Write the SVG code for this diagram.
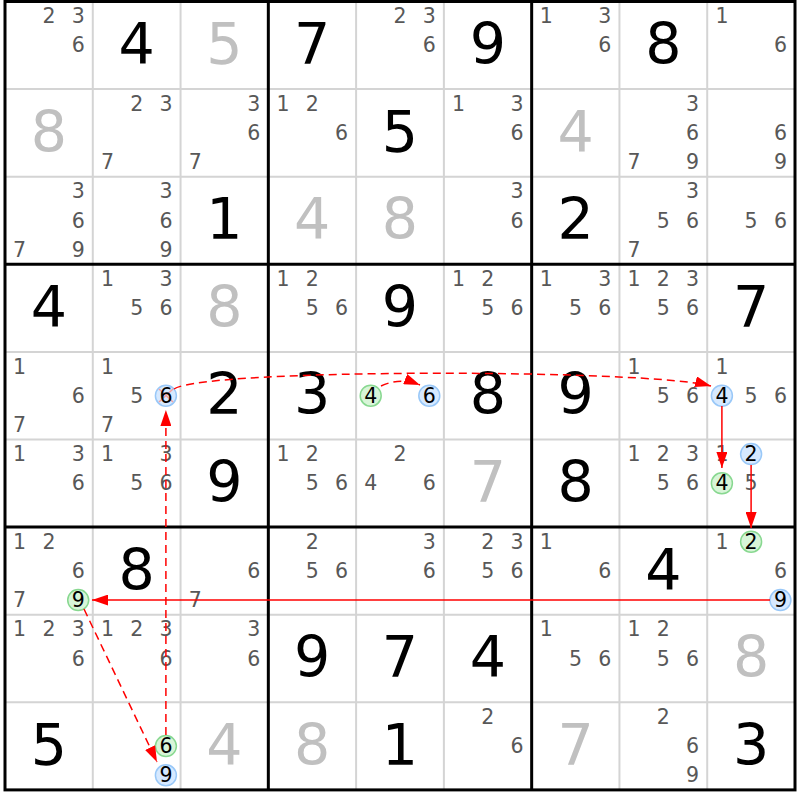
<svg xmlns="http://www.w3.org/2000/svg" width="800" height="800" viewBox="0 0 800 800">
<style>
text{font-family:"DejaVu Sans","Noto Sans",sans-serif;text-anchor:middle}
.c{font-size:20.5px;fill:#585858}
.h{font-size:20.5px;fill:#000}
.g{font-size:57px;fill:#000}
.s{font-size:57px;fill:#c0c0c0}
.thin{stroke:#d4d4d4;stroke-width:2}
.thick{stroke:#000;stroke-width:3}
.cb{fill:#d6e9ff;stroke:#99c8f8;stroke-width:1.5}
.cg{fill:#d8f5d8;stroke:#88d890;stroke-width:1.5}
.ln{fill:none;stroke:#f00;stroke-width:1.5}
.dash{stroke-dasharray:8 5}
.x{stroke:#f4a0a0;stroke-width:1.5}
</style>
<defs>
<marker id="ah" markerUnits="userSpaceOnUse" markerWidth="16" markerHeight="11" refX="16" refY="5.5" orient="auto">
<path d="M0,0 L16,5.5 L0,11 z" fill="#f00"/>
</marker>
</defs>
<rect width="800" height="800" fill="#fff"/>
<g id="grid">
<path class="thin" d="M92.78,1.5V789.9M180.56,1.5V789.9M356.11,1.5V789.9M443.89,1.5V789.9M619.44,1.5V789.9M707.22,1.5V789.9M5,89.1H795M5,176.7H795M5,351.9H795M5,439.5H795M5,614.7H795M5,702.3H795"/>
<path class="thick" d="M268.33,1.5V789.9M531.67,1.5V789.9M5,264.3H795M5,527.1H795"/>
<rect class="thick" x="5" y="1.5" width="790" height="788.4" fill="none"/>
</g>
<g id="r1c1"><text class="c" x="48.9" y="23.1">2</text><text class="c" x="78.2" y="23.1">3</text><text class="c" x="78.2" y="52.3">6</text></g>
<g id="r1c2"><text class="g" x="136.7" y="64">4</text></g>
<g id="r1c3"><text class="s" x="224.4" y="64">5</text></g>
<g id="r1c4"><text class="g" x="312.2" y="64">7</text></g>
<g id="r1c5"><text class="c" x="400" y="23.1">2</text><text class="c" x="429.3" y="23.1">3</text><text class="c" x="429.3" y="52.3">6</text></g>
<g id="r1c6"><text class="g" x="487.8" y="64">9</text></g>
<g id="r1c7"><text class="c" x="546.3" y="23.1">1</text><text class="c" x="604.8" y="23.1">3</text><text class="c" x="604.8" y="52.3">6</text></g>
<g id="r1c8"><text class="g" x="663.3" y="64">8</text></g>
<g id="r1c9"><text class="c" x="721.9" y="23.1">1</text><text class="c" x="780.4" y="52.3">6</text></g>
<g id="r2c1"><text class="s" x="48.9" y="151.6">8</text></g>
<g id="r2c2"><text class="c" x="136.7" y="110.7">2</text><text class="c" x="165.9" y="110.7">3</text><text class="c" x="107.4" y="169.1">7</text></g>
<g id="r2c3"><text class="c" x="253.7" y="110.7">3</text><text class="c" x="253.7" y="139.9">6</text><text class="c" x="195.2" y="169.1">7</text></g>
<g id="r2c4"><text class="c" x="283" y="110.7">1</text><text class="c" x="312.2" y="110.7">2</text><text class="c" x="341.5" y="139.9">6</text></g>
<g id="r2c5"><text class="g" x="400" y="151.6">5</text></g>
<g id="r2c6"><text class="c" x="458.5" y="110.7">1</text><text class="c" x="517" y="110.7">3</text><text class="c" x="517" y="139.9">6</text></g>
<g id="r2c7"><text class="s" x="575.6" y="151.6">4</text></g>
<g id="r2c8"><text class="c" x="692.6" y="110.7">3</text><text class="c" x="692.6" y="139.9">6</text><text class="c" x="634.1" y="169.1">7</text><text class="c" x="692.6" y="169.1">9</text></g>
<g id="r2c9"><text class="c" x="780.4" y="139.9">6</text><text class="c" x="780.4" y="169.1">9</text></g>
<g id="r3c1"><text class="c" x="78.2" y="198.3">3</text><text class="c" x="78.2" y="227.5">6</text><text class="c" x="19.6" y="256.7">7</text><text class="c" x="78.2" y="256.7">9</text></g>
<g id="r3c2"><text class="c" x="165.9" y="198.3">3</text><text class="c" x="165.9" y="227.5">6</text><text class="c" x="165.9" y="256.7">9</text></g>
<g id="r3c3"><text class="g" x="224.4" y="239.2">1</text></g>
<g id="r3c4"><text class="s" x="312.2" y="239.2">4</text></g>
<g id="r3c5"><text class="s" x="400" y="239.2">8</text></g>
<g id="r3c6"><text class="c" x="517" y="198.3">3</text><text class="c" x="517" y="227.5">6</text></g>
<g id="r3c7"><text class="g" x="575.6" y="239.2">2</text></g>
<g id="r3c8"><text class="c" x="692.6" y="198.3">3</text><text class="c" x="663.3" y="227.5">5</text><text class="c" x="692.6" y="227.5">6</text><text class="c" x="634.1" y="256.7">7</text></g>
<g id="r3c9"><text class="c" x="751.1" y="227.5">5</text><text class="c" x="780.4" y="227.5">6</text></g>
<g id="r4c1"><text class="g" x="48.9" y="326.8">4</text></g>
<g id="r4c2"><text class="c" x="107.4" y="285.9">1</text><text class="c" x="165.9" y="285.9">3</text><text class="c" x="136.7" y="315.1">5</text><text class="c" x="165.9" y="315.1">6</text></g>
<g id="r4c3"><text class="s" x="224.4" y="326.8">8</text></g>
<g id="r4c4"><text class="c" x="283" y="285.9">1</text><text class="c" x="312.2" y="285.9">2</text><text class="c" x="312.2" y="315.1">5</text><text class="c" x="341.5" y="315.1">6</text></g>
<g id="r4c5"><text class="g" x="400" y="326.8">9</text></g>
<g id="r4c6"><text class="c" x="458.5" y="285.9">1</text><text class="c" x="487.8" y="285.9">2</text><text class="c" x="487.8" y="315.1">5</text><text class="c" x="517" y="315.1">6</text></g>
<g id="r4c7"><text class="c" x="546.3" y="285.9">1</text><text class="c" x="604.8" y="285.9">3</text><text class="c" x="575.6" y="315.1">5</text><text class="c" x="604.8" y="315.1">6</text></g>
<g id="r4c8"><text class="c" x="634.1" y="285.9">1</text><text class="c" x="663.3" y="285.9">2</text><text class="c" x="692.6" y="285.9">3</text><text class="c" x="663.3" y="315.1">5</text><text class="c" x="692.6" y="315.1">6</text></g>
<g id="r4c9"><text class="g" x="751.1" y="326.8">7</text></g>
<g id="r5c1"><text class="c" x="19.6" y="373.5">1</text><text class="c" x="78.2" y="402.7">6</text><text class="c" x="19.6" y="431.9">7</text></g>
<g id="r5c2"><text class="c" x="107.4" y="373.5">1</text><text class="c" x="136.7" y="402.7">5</text><circle class="cb" cx="165.9" cy="395.7" r="10.5"/><path class="x" d="M159,389L173,402M173,389L159,402"/><text class="h" x="165.9" y="402.7">6</text><text class="c" x="107.4" y="431.9">7</text></g>
<g id="r5c3"><text class="g" x="224.4" y="414.4">2</text></g>
<g id="r5c4"><text class="g" x="312.2" y="414.4">3</text></g>
<g id="r5c5"><circle class="cg" cx="370.7" cy="395.7" r="10.5"/><text class="h" x="370.7" y="402.7">4</text><circle class="cb" cx="429.3" cy="395.7" r="10.5"/><text class="h" x="429.3" y="402.7">6</text></g>
<g id="r5c6"><text class="g" x="487.8" y="414.4">8</text></g>
<g id="r5c7"><text class="g" x="575.6" y="414.4">9</text></g>
<g id="r5c8"><text class="c" x="634.1" y="373.5">1</text><text class="c" x="663.3" y="402.7">5</text><text class="c" x="692.6" y="402.7">6</text></g>
<g id="r5c9"><text class="c" x="721.9" y="373.5">1</text><circle class="cb" cx="721.9" cy="395.7" r="10.5"/><text class="h" x="721.9" y="402.7">4</text><text class="c" x="751.1" y="402.7">5</text><text class="c" x="780.4" y="402.7">6</text></g>
<g id="r6c1"><text class="c" x="19.6" y="461.1">1</text><text class="c" x="78.2" y="461.1">3</text><text class="c" x="78.2" y="490.3">6</text></g>
<g id="r6c2"><text class="c" x="107.4" y="461.1">1</text><text class="c" x="165.9" y="461.1">3</text><text class="c" x="136.7" y="490.3">5</text><text class="c" x="165.9" y="490.3">6</text></g>
<g id="r6c3"><text class="g" x="224.4" y="502">9</text></g>
<g id="r6c4"><text class="c" x="283" y="461.1">1</text><text class="c" x="312.2" y="461.1">2</text><text class="c" x="312.2" y="490.3">5</text><text class="c" x="341.5" y="490.3">6</text></g>
<g id="r6c5"><text class="c" x="400" y="461.1">2</text><text class="c" x="370.7" y="490.3">4</text><text class="c" x="429.3" y="490.3">6</text></g>
<g id="r6c6"><text class="s" x="487.8" y="502">7</text></g>
<g id="r6c7"><text class="g" x="575.6" y="502">8</text></g>
<g id="r6c8"><text class="c" x="634.1" y="461.1">1</text><text class="c" x="663.3" y="461.1">2</text><text class="c" x="692.6" y="461.1">3</text><text class="c" x="663.3" y="490.3">5</text><text class="c" x="692.6" y="490.3">6</text></g>
<g id="r6c9"><text class="c" x="721.9" y="461.1">1</text><circle class="cb" cx="751.1" cy="454.1" r="10.5"/><text class="h" x="751.1" y="461.1">2</text><circle class="cg" cx="721.9" cy="483.3" r="10.5"/><text class="h" x="721.9" y="490.3">4</text><text class="c" x="751.1" y="490.3">5</text></g>
<g id="r7c1"><text class="c" x="19.6" y="548.7">1</text><text class="c" x="48.9" y="548.7">2</text><text class="c" x="78.2" y="577.9">6</text><text class="c" x="19.6" y="607.1">7</text><circle class="cg" cx="78.2" cy="600.1" r="10.5"/><text class="h" x="78.2" y="607.1">9</text></g>
<g id="r7c2"><text class="g" x="136.7" y="589.6">8</text></g>
<g id="r7c3"><text class="c" x="253.7" y="577.9">6</text><text class="c" x="195.2" y="607.1">7</text></g>
<g id="r7c4"><text class="c" x="312.2" y="548.7">2</text><text class="c" x="312.2" y="577.9">5</text><text class="c" x="341.5" y="577.9">6</text></g>
<g id="r7c5"><text class="c" x="429.3" y="548.7">3</text><text class="c" x="429.3" y="577.9">6</text></g>
<g id="r7c6"><text class="c" x="487.8" y="548.7">2</text><text class="c" x="517" y="548.7">3</text><text class="c" x="487.8" y="577.9">5</text><text class="c" x="517" y="577.9">6</text></g>
<g id="r7c7"><text class="c" x="546.3" y="548.7">1</text><text class="c" x="604.8" y="577.9">6</text></g>
<g id="r7c8"><text class="g" x="663.3" y="589.6">4</text></g>
<g id="r7c9"><text class="c" x="721.9" y="548.7">1</text><circle class="cg" cx="751.1" cy="541.7" r="10.5"/><text class="h" x="751.1" y="548.7">2</text><text class="c" x="780.4" y="577.9">6</text><circle class="cb" cx="780.4" cy="600.1" r="10.5"/><text class="h" x="780.4" y="607.1">9</text></g>
<g id="r8c1"><text class="c" x="19.6" y="636.3">1</text><text class="c" x="48.9" y="636.3">2</text><text class="c" x="78.2" y="636.3">3</text><text class="c" x="78.2" y="665.5">6</text></g>
<g id="r8c2"><text class="c" x="107.4" y="636.3">1</text><text class="c" x="136.7" y="636.3">2</text><text class="c" x="165.9" y="636.3">3</text><text class="c" x="165.9" y="665.5">6</text></g>
<g id="r8c3"><text class="c" x="253.7" y="636.3">3</text><text class="c" x="253.7" y="665.5">6</text></g>
<g id="r8c4"><text class="g" x="312.2" y="677.2">9</text></g>
<g id="r8c5"><text class="g" x="400" y="677.2">7</text></g>
<g id="r8c6"><text class="g" x="487.8" y="677.2">4</text></g>
<g id="r8c7"><text class="c" x="546.3" y="636.3">1</text><text class="c" x="575.6" y="665.5">5</text><text class="c" x="604.8" y="665.5">6</text></g>
<g id="r8c8"><text class="c" x="634.1" y="636.3">1</text><text class="c" x="663.3" y="636.3">2</text><text class="c" x="663.3" y="665.5">5</text><text class="c" x="692.6" y="665.5">6</text></g>
<g id="r8c9"><text class="s" x="751.1" y="677.2">8</text></g>
<g id="r9c1"><text class="g" x="48.9" y="764.8">5</text></g>
<g id="r9c2"><circle class="cg" cx="165.9" cy="746.1" r="10.5"/><text class="h" x="165.9" y="753.1">6</text><circle class="cb" cx="165.9" cy="775.3" r="10.5"/><text class="h" x="165.9" y="782.3">9</text></g>
<g id="r9c3"><text class="s" x="224.4" y="764.8">4</text></g>
<g id="r9c4"><text class="s" x="312.2" y="764.8">8</text></g>
<g id="r9c5"><text class="g" x="400" y="764.8">1</text></g>
<g id="r9c6"><text class="c" x="487.8" y="723.9">2</text><text class="c" x="517" y="753.1">6</text></g>
<g id="r9c7"><text class="s" x="575.6" y="764.8">7</text></g>
<g id="r9c8"><text class="c" x="663.3" y="723.9">2</text><text class="c" x="692.6" y="753.1">6</text><text class="c" x="692.6" y="782.3">9</text></g>
<g id="r9c9"><text class="g" x="751.1" y="764.8">3</text></g>
<g id="connectors">
<path class="ln dash" d="M174,389 C205,368 650,369 711,386" marker-end="url(#ah)"/>
<path class="ln dash" d="M381,386 Q400,377 420,385" marker-end="url(#ah)"/>
<path class="ln" d="M721.9,406 L721.9,468" marker-end="url(#ah)"/>
<path class="ln" d="M751.1,465 L751.1,528" marker-end="url(#ah)"/>
<path class="ln" d="M770,600.1 L92,600.1" marker-end="url(#ah)"/>
<path class="ln dash" d="M84,609 L157,762" marker-end="url(#ah)"/>
<path class="ln dash" d="M165.9,735 L165.9,410" marker-end="url(#ah)"/>
</g>
</svg>
